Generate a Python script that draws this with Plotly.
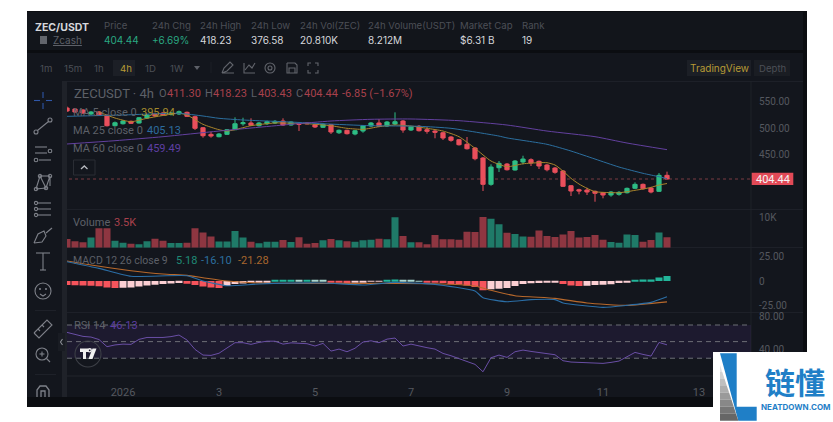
import plotly.graph_objects as go

W, H = 833, 422

# 4h candles, oldest first
candle_index = list(range(76))
opens = [537.6, 535.7, 533.8, 526.3, 530.1, 523.1, 504.4, 508.1, 512.6, 509.4, 518.8, 526.3, 528.2, 525.4, 526.3, 529.5,
         521.3, 500.6, 488.2, 483.7, 488.2, 496.9, 508.1, 509.5, 504.4, 508.1, 509.5, 513.2, 505.7, 508.9, 509.5, 506.3,
         501.4, 506.3, 491.2, 495.8, 488.8, 494.4, 503.8, 509.5, 503.8, 507.6, 513.2, 496.3, 503.3, 496.9, 494.4, 491.2,
         483.2, 478.1, 469.5, 462.6, 443.8, 394.4, 425.6, 432.5, 421.3, 436.3, 440.6, 437.6, 430.7, 425.0, 419.4, 391.8,
         384.3, 383.8, 381.3, 378.7, 374.4, 375.7, 378.7, 387.0, 394.4, 387.5, 381.3, 411.30]
highs = [540.4, 537.6, 535.7, 532.0, 532.0, 526.3, 512.3, 515.1, 514.1, 520.7, 526.3, 527.3, 530.1, 530.1, 532.9, 531.0,
         523.2, 501.9, 493.1, 490.7, 498.2, 520.1, 519.4, 518.3, 511.3, 514.1, 515.1, 518.3, 512.6, 510.4, 510.8, 508.1,
         508.9, 507.6, 497.3, 496.7, 496.3, 505.7, 511.3, 517.0, 513.2, 529.5, 515.1, 503.8, 505.7, 501.9, 496.3, 492.6,
         485.0, 479.4, 483.2, 464.4, 445.7, 432.0, 438.2, 434.4, 440.0, 448.1, 443.2, 439.1, 432.5, 426.9, 421.3, 393.1,
         386.2, 388.0, 382.8, 380.0, 381.9, 381.9, 388.4, 398.2, 396.0, 389.4, 415.6, 418.23]
lows = [530.1, 528.2, 526.3, 524.5, 522.6, 502.9, 503.8, 506.6, 507.6, 508.5, 517.0, 520.7, 522.6, 523.5, 524.5, 520.7,
        496.3, 481.9, 481.9, 482.6, 486.9, 496.3, 504.4, 503.8, 502.9, 505.7, 507.6, 503.8, 504.4, 494.4, 507.0, 500.1,
        500.1, 488.8, 488.8, 487.9, 486.4, 491.2, 501.9, 501.9, 501.9, 505.7, 491.2, 494.4, 493.5, 489.4, 480.8, 477.6,
        474.4, 467.2, 459.7, 439.5, 381.9, 391.8, 417.5, 420.3, 420.3, 432.0, 428.8, 423.2, 418.8, 414.3, 389.4, 372.5,
        375.7, 374.4, 361.8, 368.2, 371.2, 373.1, 377.2, 385.6, 384.7, 377.6, 380.0, 403.43]
closes = [532.0, 530.1, 528.2, 530.1, 524.5, 504.4, 510.0, 513.2, 508.9, 519.4, 524.5, 522.6, 524.5, 528.2, 530.7, 522.0,
          499.5, 485.6, 485.0, 488.8, 496.9, 508.1, 510.0, 505.1, 509.5, 511.9, 512.6, 505.7, 511.3, 507.0, 508.1, 502.0,
          507.0, 492.6, 495.8, 489.4, 495.0, 504.4, 509.5, 503.3, 511.3, 511.9, 496.3, 502.5, 495.0, 493.9, 492.0, 481.3,
          477.0, 468.7, 461.2, 442.5, 394.4, 426.9, 433.8, 421.8, 438.2, 441.9, 434.4, 428.8, 421.8, 417.0, 390.7, 381.9,
          381.9, 380.0, 377.6, 374.4, 380.0, 379.4, 386.9, 394.4, 386.2, 380.0, 411.30, 404.44]

# Moving averages
ma5_k = [4, 6, 8, 10, 14, 15, 17, 19, 20, 21, 23, 26, 30, 33, 35, 37, 39, 41, 43, 45, 47, 49, 51, 53, 55, 57, 59, 60,
         61, 62, 63, 64, 65, 66, 67, 69, 70, 71, 72, 73, 74, 75]
ma5 = [530.0, 518.8, 511.9, 518.3, 527.6, 524.5, 507.0, 496.9, 494.4, 496.9, 504.4, 509.5, 508.1, 504.4, 499.5, 497.6,
       502.5, 505.7, 503.8, 499.5, 494.4, 483.8, 462.0, 438.2, 427.5, 433.0, 435.0, 435.0, 430.7, 419.4, 405.7, 395.0,
       387.0, 380.6, 379.4, 378.7, 380.6, 383.2, 385.6, 388.8, 393.1, 395.94]
ma25_k = [0, 7, 14, 17, 19, 22, 28, 32, 38, 44, 48, 52, 54, 55, 60, 63, 66, 69, 72, 74, 75]
ma25 = [522.0, 524.5, 527.6, 522.6, 518.3, 515.1, 511.3, 508.1, 504.4, 503.3, 499.5, 490.1, 485.0, 481.5, 469.5, 456.9,
        441.9, 426.9, 415.1, 408.7, 405.13]
ma60_k = [0, 6, 12, 19, 28, 33, 38, 43, 49, 55, 60, 66, 70, 75]
ma60 = [470.1, 476.3, 483.8, 494.4, 507.0, 513.2, 516.4, 517.0, 513.8, 505.7, 494.4, 483.8, 471.9, 459.49]

# Volume in thousands
volume = [2.9, 2.2, 1.8, 3.4, 6.5, 6.5, 2.3, 1.7, 1.3, 1.2, 2.2, 3.0, 2.3, 1.6, 1.6, 1.7, 6.5, 5.1, 3.8, 2.1, 2.1, 5.6,
          3.4, 2.0, 1.5, 2.0, 2.0, 2.6, 1.9, 3.5, 1.3, 1.6, 2.5, 2.9, 2.5, 2.2, 2.0, 2.5, 2.7, 3.0, 2.8, 10.2, 3.9, 1.8,
          1.8, 1.2, 4.3, 2.8, 2.8, 2.7, 5.4, 5.3, 10.3, 9.7, 7.9, 5.0, 4.6, 3.8, 3.7, 5.8, 3.9, 3.6, 4.4, 5.6, 3.4, 3.6,
          4.3, 2.7, 1.9, 1.7, 4.4, 4.3, 2.0, 2.6, 5.1, 3.5]

# MACD histogram and lines
macd_hist = [-4.0, -4.2, -4.6, -4.9, -5.2, -6.5, -7.0, -6.8, -6.5, -5.5, -4.5, -3.7, -3.0, -2.5, -2.0, -2.8, -4.0, -5.5,
             -6.5, -7.0, -5.0, -3.0, -2.5, -2.0, -1.5, -1.0, 0.8, 1.0, 1.0, 0.9, 1.1, 1.0, 0.9, -1.0, -1.5, -2.0, -1.2,
             -0.8, -0.5, -0.3, 0.8, 1.5, 1.2, 0.9, 0.3, -0.7, -1.2, -2.0, -3.0, -3.5, -4.5, -6.0, -9.5, -8.5, -8.0, -7.0,
             -5.0, -3.0, -2.2, -2.0, -1.8, -1.5, -3.0, -4.5, -5.0, -4.8, -4.0, -3.8, -3.3, -2.0, -1.0, 0.7, 1.5, 1.5, 3.5,
             5.18]
macd_k = [0, 4, 8, 15, 17, 20, 24, 32, 37, 41, 46, 51, 52, 55, 58, 61, 62, 67, 70, 73, 75]
macd_line = [19.7, 12.9, 4.8, 5.4, 0.0, -4.8, -3.0, -2.0, -4.0, -1.4, -3.4, -10.2, -17.0, -21.1, -19.0, -19.0, -22.4,
             -26.9, -24.8, -21.8, -16.10]
signal_k = [0, 3, 8, 12, 15, 17, 20, 24, 32, 41, 46, 51, 53, 56, 61, 65, 70, 75]
signal_line = [20.4, 16.3, 10.5, 7.1, 5.8, 3.4, 0.0, -2.0, -2.4, -2.4, -2.7, -5.1, -9.5, -15.0, -17.7, -22.4, -24.8, -21.28]

# RSI 14
rsi = [61.1, 59.0, 56.3, 55.5, 52.5, 43.9, 46.0, 47.0, 46.7, 52.7, 55.0, 55.0, 55.0, 56.0, 57.9, 51.9, 40.6, 33.8, 33.4,
       36.0, 42.0, 48.7, 48.7, 46.7, 49.0, 50.5, 50.5, 47.0, 48.5, 48.0, 47.5, 44.7, 47.9, 38.6, 41.0, 37.8, 42.0, 49.5,
       51.0, 48.7, 53.0, 54.3, 44.7, 47.0, 44.5, 42.7, 41.0, 35.8, 33.0, 29.5, 26.5, 22.6, 13.7, 30.6, 33.8, 31.0, 37.8,
       39.8, 38.2, 36.6, 35.4, 34.2, 27.0, 25.4, 25.0, 24.6, 24.2, 23.8, 25.0, 26.6, 31.8, 37.0, 34.6, 32.6, 49.0, 46.13]

day_ticks = [7, 19, 31, 43, 55, 67, 79]
day_labels = ["2026", "3", "5", "7", "9", "11", "13"]

# Palette
FRAME = "#0b0d11"
PANEL = "#13161d"
GREEN, RED = "#2ebd85", "#ea4f5c"
VOL_GREEN, VOL_RED = "#1f7a68", "#8e3641"
MA5_C, MA25_C, MA60_C = "#a9852c", "#2c6f9f", "#63419f"
GREY = "#5d6068"
SEP = "#22252c"
FONT = "Inter"
CHART_FONT = "Roboto"


def px(x):
    return x / W


def py(y):
    return 1 - y / H


def poly(points, close=False):
    d = "M" + " L".join(f"{px(x):.5f},{py(y):.5f}" for x, y in points)
    return d + (" Z" if close else "")


shapes = []


def rect(x0, y0, x1, y1, fill, layer="below", line=None, r=0):
    shapes.append(dict(type="rect", xref="paper", yref="paper", x0=px(x0), x1=px(x1), y0=py(y0), y1=py(y1),
                       fillcolor=fill, line=dict(width=1 if line else 0, color=line or fill), layer=layer))


def stroke(points, color="#7e8189", w=1.1, layer="below"):
    shapes.append(dict(type="path", xref="paper", yref="paper", path=poly(points),
                       line=dict(color=color, width=w), layer=layer))


def fill(points, color, layer="below"):
    shapes.append(dict(type="path", xref="paper", yref="paper", path=poly(points, True),
                       fillcolor=color, line=dict(width=0), layer=layer))


def ring(cx, cy, r, color="#7e8189", w=1.1, layer="below"):
    shapes.append(dict(type="circle", xref="paper", yref="paper", x0=px(cx - r), x1=px(cx + r),
                       y0=py(cy + r), y1=py(cy - r), line=dict(color=color, width=w), layer=layer))


annotations = []


def text(x, y, s, color="#5d6068", size=10, anchor="left", weight=None, font=FONT):
    label = f"<b>{s}</b>" if weight else s
    annotations.append(dict(xref="paper", yref="paper", x=px(x), y=py(y), text=label, showarrow=False,
                            xanchor=anchor, yanchor="middle", font=dict(family=font, size=size, color=color),
                            borderpad=0, borderwidth=0))


# Page frame and panels
rect(27, 11, 807, 407, FRAME)
rect(27, 12, 803, 50, "#12151b")
rect(27, 53, 803, 81, PANEL)
rect(27, 81, 803, 397, PANEL)
rect(62, 81, 67, 397, "#1f2229")
for sep_y in [81.3, 209.3, 247.7, 312.3, 376]:
    rect(67, sep_y - 0.4, 803, sep_y + 0.4, SEP)
rect(750.6, 81, 751.4, 397, SEP)
rect(35, 310, 56, 310.8, SEP)
rect(35, 374, 56, 374.8, SEP)

# Header
text(35, 27.5, "ZEC/USDT", "#d5d7db", 10.5, weight=True)
fill([(40, 36), (47, 36), (47, 44), (40, 44)], "#62656c")
text(52.5, 40, "<u>Zcash</u>", GREY, 10)
header_labels = [(104, "Price"), (151.5, "24h Chg"), (200, "24h High"), (251, "24h Low"), (300, "24h Vol(ZEC)"),
                 (368, "24h Volume(USDT)"), (460, "Market Cap"), (522, "Rank")]
for x, s in header_labels:
    text(x, 25, s, "#4c4f56", 9.6)
header_values = [(104, "404.44", "#2aa882"), (151.5, "+6.69%", "#2aa882"), (200, "418.23", "#d5d7db"),
                 (251, "376.58", "#d5d7db"), (300, "20.810K", "#d5d7db"), (368, "8.212M", "#d5d7db"),
                 (460, "$6.31 B", "#d5d7db"), (522, "19", "#d5d7db")]
for x, s, c in header_values:
    text(x, 40, s, c, 10)

# Interval bar
rect(113, 60, 135, 76, "#1c1f26")
for x, s, c in [(40, "1m", "#4c4f56"), (64, "15m", "#4c4f56"), (94, "1h", "#4c4f56"), (119.5, "4h", "#b79a35"),
                (145, "1D", "#4c4f56"), (170, "1W", "#4c4f56")]:
    text(x, 68, s, c, 9.6)
fill([(194, 66), (200, 66), (197, 70)], "#5d6068")
rect(210.7, 62, 211.3, 73, SEP)
stroke([(222, 73), (224, 68), (230, 62), (233, 65), (227, 71), (222, 73), (234, 73)], "#62656c")
stroke([(244, 63), (244, 73), (255, 73)], "#62656c")
stroke([(245, 70), (249, 65), (252, 68), (255, 63)], "#62656c")
ring(270, 68, 2, "#62656c")
ring(270, 68, 5, "#62656c")
stroke([(287, 63), (295, 63), (297, 65), (297, 73), (287, 73), (287, 63)], "#62656c")
stroke([(289, 73), (289, 68), (295, 68), (295, 73)], "#62656c")
for x0, y0, dx, dy in [(308, 63, 1, 1), (318, 63, -1, 1), (308, 73, 1, -1), (318, 73, -1, -1)]:
    stroke([(x0 + 3 * dx, y0), (x0, y0), (x0, y0 + 3 * dy)], "#62656c")
rect(687, 60, 751, 76, "#1c1f26")
text(719, 68, "TradingView", "#b79a35", 10, anchor="center")
rect(754, 60, 790, 76, "#1a1d23")
text(772, 68, "Depth", "#4c4f56", 9.6, anchor="center")

# Drawing tools column
stroke([(43, 92), (43, 98)], "#2f57a8")
stroke([(43, 103), (43, 109)], "#2f57a8")
stroke([(34, 100.5), (40, 100.5)], "#2f57a8")
stroke([(46, 100.5), (52, 100.5)], "#2f57a8")
ring(36, 132, 2)
ring(50, 120, 2)
stroke([(37.5, 130.5), (48.5, 121.5)])
for y0, xa, xb in [(147, 35, 47), (153, 35, 47), (160, 39, 51)]:
    stroke([(xa, y0), (xb, y0)])
ring(50, 151, 1.8)
ring(36, 160, 1.8)
stroke([(36, 189), (40, 176), (46, 188), (50, 176), (50, 186)])
stroke([(40, 176), (50, 176)])
stroke([(36, 189), (46, 188)])
for cx, cy in [(36, 189), (40, 176), (46, 188), (50, 176)]:
    ring(cx, cy, 1.7)
for y0 in [203, 209, 215]:
    stroke([(37, y0), (51, y0)])
    ring(36, y0, 1.6)
stroke([(34, 243), (38, 234), (44, 231), (46, 236), (42, 242), (34, 243)])
stroke([(46, 233), (52, 228)])
stroke([(36, 253), (50, 253)])
stroke([(43, 253), (43, 270)])
stroke([(40, 270), (46, 270)])
ring(43, 291, 8)
ring(40, 289, 0.5)
ring(46, 289, 0.5)
stroke([(40, 294), (43, 296), (46, 294)])
stroke([(34, 333), (47, 320), (52, 325), (39, 338), (34, 333)])
stroke([(38, 329), (40, 331)])
stroke([(42, 325), (44, 327)])
ring(42, 354, 6)
stroke([(39.5, 354), (44.5, 354)])
stroke([(42, 351.5), (42, 356.5)])
stroke([(46.5, 358.5), (50, 362)])
stroke([(37, 397), (37, 390), (40, 386), (46, 386), (49, 390), (49, 397)], w=1.3)
stroke([(41, 397), (41, 391), (45, 391), (45, 397)], w=1.3)

# Price panel legend
text(74, 94, "ZECUSDT · 4h", GREY, 13, font=CHART_FONT)
for x, s, c in [(158.5, "O", GREY), (167, "411.30", "#a8414c"), (205, "H", GREY), (213, "418.23", "#a8414c"),
                (251, "L", GREY), (258, "403.43", "#a8414c"), (296, "C", GREY), (304, "404.44", "#a8414c"),
                (342, "-6.85 (−1.67%)", "#a8414c")]:
    text(x, 94, s, c, 11, font=CHART_FONT)
text(73, 112.7, "MA 5 close 0", GREY, 11, font=CHART_FONT)
text(141, 112.7, "395.94", "#a38a2d", 11, font=CHART_FONT)
text(73, 130.7, "MA 25 close 0", GREY, 11, font=CHART_FONT)
text(146.7, 130.7, "405.13", "#2d6c9e", 11, font=CHART_FONT)
text(73, 149, "MA 60 close 0", GREY, 11, font=CHART_FONT)
text(146.7, 149, "459.49", "#5e3fa3", 11, font=CHART_FONT)
rect(73.5, 160, 95, 175, PANEL, line="#2a2d34")
stroke([(81, 169), (84.3, 166), (87.5, 169)], "#b8bac0", 1.3)

# Sub-panel legends
text(73, 222, "Volume", GREY, 11, font=CHART_FONT)
text(114, 222, "3.5K", "#a8414c", 11, font=CHART_FONT)
text(73, 260.7, "MACD 12 26 close 9", GREY, 10.5, font=CHART_FONT)
text(175.5, 260.7, "5.18", "#1f8a75", 11, font=CHART_FONT)
text(201, 260.7, "-16.10", "#2c6f9f", 11, font=CHART_FONT)
text(237.5, 260.7, "-21.28", "#a8672e", 11, font=CHART_FONT)
text(73.5, 325, "RSI 14", GREY, 11, font=CHART_FONT)
text(110, 325, "46.13", "#5e3fa3", 11, font=CHART_FONT)

# Last price marker
rect(751.7, 172.7, 793.3, 185, "#e24a57", layer="above")
text(772.5, 179, "404.44", "#f4f4f5", 11, anchor="center", font=CHART_FONT)
shapes.append(dict(type="line", xref="x", yref="y", x0=0 - 0.5, x1=85.5, y0=404.44, y1=404.44,
                   line=dict(color="#7b3a42", width=1, dash="dot"), layer="below"))

# RSI band and levels
shapes.append(dict(type="rect", xref="paper", yref="y4", x0=px(67), x1=px(751), y0=30, y1=70,
                   fillcolor="rgba(103,58,183,0.12)", line=dict(width=0), layer="below"))
for level in [70, 50, 30]:
    shapes.append(dict(type="line", xref="paper", yref="y4", x0=px(67), x1=px(751), y0=level, y1=level,
                       line=dict(color="#6d6f76", width=1, dash="5px,4px"), layer="below"))

# Collapse handle and brand badge
rect(58, 333, 65, 351, "#191c23")
stroke([(62.5, 339), (60.5, 342), (62.5, 345)], "#8a8d94", 1.1)
ring(88, 354, 13, "#3c3f46", 1.1, layer="above")
fill([(80, 348.5), (88, 348.5), (88, 352), (86, 352), (86, 359), (83, 359), (83, 352), (80, 352)], "#f0f0f0", "above")
ring(89.7, 350.3, 1.6, "#f0f0f0", 1.4, "above")
fill([(92.5, 348.5), (96.5, 348.5), (92.5, 359), (88.5, 359)], "#f0f0f0", "above")

# Site logo in the lower right corner
rect(713, 352, 833, 422, "#ffffff", layer="above")
fill([(720, 353.3), (736.7, 353.3), (736.7, 406.7), (756.7, 406.7), (756.7, 420.7), (738.3, 420.7)], "#1f7fc7", "above")
grey_steps = ["#e4e4e4", "#d2d2d2", "#bfbfbf", "#adadad", "#9a9a9a", "#888888", "#767676", "#666666"]
step = (420.7 - 365) / len(grey_steps)
for i, shade in enumerate(grey_steps):
    y_top = 365 + i * step
    y_bot = y_top + step
    fill([(720, y_top), (720 + (y_top - 365) * 0.329, y_top), (720 + (y_bot - 365) * 0.329, y_bot), (720, y_bot)], shade, "above")
text(795, 380.5, "链懂", "#1f7fc7", 30, anchor="center", weight=True, font="Noto Sans CJK SC")
text(795.5, 406.5, "NEATDOWN.COM", "#1f7fc7", 8, anchor="center", weight=True)

# Traces
fig = go.Figure()
fig.add_trace(go.Candlestick(x=candle_index, open=opens, high=highs, low=lows, close=closes, whiskerwidth=0,
                             increasing=dict(line=dict(color=GREEN, width=1), fillcolor=GREEN),
                             decreasing=dict(line=dict(color=RED, width=1), fillcolor=RED),
                             yaxis="y", hoverinfo="skip"))
for k_vals, vals, color in [(ma5_k, ma5, MA5_C), (ma25_k, ma25, MA25_C), (ma60_k, ma60, MA60_C)]:
    fig.add_trace(go.Scatter(x=k_vals, y=vals, mode="lines", line=dict(color=color, width=1, shape="spline", smoothing=0.6),
                             yaxis="y", hoverinfo="skip"))

vol_colors = [VOL_GREEN if c >= o else VOL_RED for o, c in zip(opens, closes)]
fig.add_trace(go.Bar(x=candle_index, y=volume, marker=dict(color=vol_colors, line=dict(width=0)), width=0.88,
                     yaxis="y2", hoverinfo="skip"))

hist_colors = []
for i, v in enumerate(macd_hist):
    prev = macd_hist[i - 1] if i else v
    if v >= 0:
        hist_colors.append("#22b59a" if v >= prev else "#a8d6cf")
    else:
        hist_colors.append("#f6545c" if v <= prev else "#fbcfd3")
fig.add_trace(go.Bar(x=candle_index, y=macd_hist, marker=dict(color=hist_colors, line=dict(width=0)), width=0.88,
                     yaxis="y3", hoverinfo="skip"))
fig.add_trace(go.Scatter(x=signal_k, y=signal_line, mode="lines", line=dict(color="#b8692c", width=1.1, shape="spline", smoothing=0.5),
                         yaxis="y3", hoverinfo="skip"))
fig.add_trace(go.Scatter(x=macd_k, y=macd_line, mode="lines", line=dict(color="#2b6ea6", width=1.1, shape="spline", smoothing=0.5),
                         yaxis="y3", hoverinfo="skip"))

fig.add_trace(go.Scatter(x=candle_index, y=rsi, mode="lines", line=dict(color="#6a4fa6", width=1),
                         yaxis="y4", hoverinfo="skip"))


def price_axis(top, bottom, rng, ticks, labels):
    return dict(domain=[1 - bottom / H, 1 - top / H], range=rng, anchor="x", side="right", tickmode="array",
                tickvals=ticks, ticktext=labels, showgrid=False, zeroline=False, showline=False,
                ticks="outside", ticklen=5, tickcolor="rgba(0,0,0,0)",
                tickfont=dict(family=CHART_FONT, size=10, color="#55585f"))


fig.update_layout(
    width=W, height=H, autosize=False, margin=dict(l=0, r=0, t=0, b=0),
    paper_bgcolor="#ffffff", plot_bgcolor="rgba(0,0,0,0)", showlegend=False, hovermode=False,
    boxgap=0.25,
    xaxis=dict(domain=[px(67), px(751)], range=[0, 85.5], anchor="free", position=py(376), tickmode="array",
               tickvals=day_ticks, ticktext=day_labels, showgrid=False, zeroline=False, showline=False,
               ticks="outside", ticklen=6, tickcolor="rgba(0,0,0,0)", rangeslider=dict(visible=False),
               tickfont=dict(family=CHART_FONT, size=11, color="#55585f")),
    yaxis=price_axis(81.3, 209.3, [347.6, 587.7], [450, 500, 550], ["450.00", "500.00", "550.00"]),
    yaxis2=price_axis(209.3, 247.7, [0, 12.9], [10], ["10K"]),
    yaxis3=price_axis(247.7, 312.3, [-31.9, 34], [-25, 0, 25], ["-25.00", "0", "25.00"]),
    yaxis4=price_axis(312.3, 376, [8.6, 85.3], [40, 80], ["40.00", "80.00"]),
    shapes=shapes, annotations=annotations,
)

fig.write_html("out.html", config={"displayModeBar": False})
